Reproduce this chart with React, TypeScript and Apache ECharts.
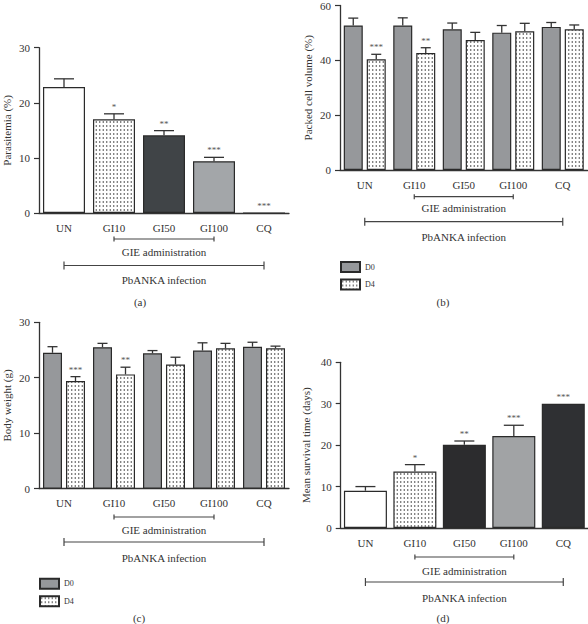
import React, { useEffect, useRef } from 'react';
import * as echarts from 'echarts';

// ---------- data ----------
const categories = ['UN', 'GI10', 'GI50', 'GI100', 'CQ'];

// (a) Parasitemia (%)
const parasitemia = [22.85, 17.0, 14.1, 9.4, 0];
const parasitemiaErr = [1.5, 1.0, 0.85, 0.7, 0];
const parasitemiaSig = ['', '*', '**', '***', '***'];

// (b) Packed cell volume (%)
const pcvD0 = [52.7, 52.7, 51.3, 50.1, 52.2];
const pcvD0Err = [2.7, 2.8, 2.3, 2.6, 1.6];
const pcvD4 = [40.4, 42.7, 47.4, 50.6, 51.3];
const pcvD4Err = [1.8, 1.9, 2.8, 2.9, 1.6];
const pcvD4Sig = ['***', '**', '', '', ''];

// (c) Body weight (g)
const bwD0 = [24.5, 25.5, 24.4, 24.9, 25.6];
const bwD0Err = [1.1, 0.7, 0.5, 1.4, 0.8];
const bwD4 = [19.4, 20.6, 22.4, 25.3, 25.3];
const bwD4Err = [0.8, 1.3, 1.3, 0.9, 0.4];
const bwD4Sig = ['***', '**', '', '', ''];

// (d) Mean survival time (days)
const mst = [9.0, 13.65, 20.1, 22.2, 30.0];
const mstErr = [1.0, 1.65, 0.9, 2.6, 0];
const mstSig = ['', '*', '**', '***', '***'];

// brackets under the category axes
const bracketLabels = ['GIE administration', 'PbANKA infection'];
const bracketFrom = [1, 0];
const bracketTo = [3, 4];

const dayLabels = ['D0', 'D4'];
const panelLabels = ['(a)', '(b)', '(c)', '(d)'];

// ---------- style ----------
const FONT = '"Liberation Serif", "Times New Roman", serif';
const INK = '#333333';
const BORDER = '#2a2a2a';

const dotSvg =
  '<svg xmlns="http://www.w3.org/2000/svg" width="7" height="8">' +
  '<rect width="7" height="8" fill="#ffffff"/>' +
  '<circle cx="1.75" cy="2" r="0.75" fill="#2a2a2a"/>' +
  '<circle cx="5.25" cy="2" r="0.75" fill="#2a2a2a"/>' +
  '<circle cx="1.75" cy="6" r="0.75" fill="#2a2a2a"/>' +
  '<circle cx="5.25" cy="6" r="0.75" fill="#2a2a2a"/>' +
  '</svg>';
const DOTS: any = {
  image: 'data:image/svg+xml;charset=utf-8,' + encodeURIComponent(dotSvg),
  repeat: 'repeat',
  imageWidth: 7,
  imageHeight: 8,
};
const D0_FILL = '#96989b';

const fillsA = ['#ffffff', DOTS, '#404447', '#a3a6a9', '#ffffff'];
const fillsD = ['#ffffff', DOTS, '#2c2c2e', '#a1a3a5', '#2f3033'];

const grids = [
  { left: 39, top: 47.7, width: 250, height: 165.3 },
  { left: 340, top: 4.7, width: 247.5, height: 165.3 },
  { left: 39, top: 322.3, width: 250, height: 166.3 },
  { left: 340.7, top: 362.3, width: 247.3, height: 165.7 },
];

// offsets below the x axis: [GIE line, GIE text, PbANKA line, PbANKA text]
const bracketOffsets = [
  [26, 38.5, 52.5, 67],
  [26.7, 38, 51.7, 67.3],
  [28.4, 41.7, 53.4, 69],
  [29, 43.3, 54, 69.6],
];

const xAxisFor = (gridIndex: number) => ({
  type: 'category',
  gridIndex,
  data: categories,
  axisLine: { lineStyle: { color: INK, width: 1.3 } },
  axisTick: { alignWithLabel: true, length: 5, lineStyle: { color: INK, width: 1.2 } },
  axisLabel: { fontFamily: FONT, fontSize: 11, color: INK, margin: 9 },
});

const yAxisFor = (gridIndex: number, max: number, interval: number, name: string, nameGap: number) => ({
  type: 'value',
  gridIndex,
  min: 0,
  max,
  interval,
  name,
  nameLocation: 'middle',
  nameGap,
  nameTextStyle: { fontFamily: FONT, fontSize: 11, color: INK },
  axisLine: { show: true, lineStyle: { color: INK, width: 1.3 } },
  axisTick: { show: true, length: 5, lineStyle: { color: INK, width: 1.2 } },
  splitLine: { show: false },
  axisLabel: { fontFamily: FONT, fontSize: 11, color: INK, margin: 9 },
});

function errorSeries(
  axis: number,
  means: number[],
  errs: number[],
  sigs: string[] | null,
  offset: number,
  capHalf: number
) {
  return {
    type: 'custom',
    xAxisIndex: axis,
    yAxisIndex: axis,
    z: 5,
    silent: true,
    data: means.map((m, i) => [i, m, errs[i]]),
    renderItem: (params: any, api: any) => {
      const i = api.value(0);
      const m = api.value(1);
      const e = api.value(2);
      const base = api.coord([i, m]);
      const top = api.coord([i, m + e]);
      const x = base[0] + offset;
      const children: any[] = [];
      const ls = { stroke: INK, lineWidth: 1.3 };
      if (e > 0) {
        children.push({ type: 'line', shape: { x1: x, y1: base[1], x2: x, y2: top[1] }, style: ls });
        children.push({
          type: 'line',
          shape: { x1: x - capHalf, y1: top[1], x2: x + capHalf, y2: top[1] },
          style: ls,
        });
      }
      const sig = sigs ? sigs[params.dataIndex] : '';
      if (sig) {
        children.push({
          type: 'text',
          x,
          y: top[1] - 7,
          style: {
            text: sig,
            font: '9px ' + FONT,
            fontFamily: FONT,
            fontSize: 9,
            fill: '#555',
            align: 'center',
            verticalAlign: 'middle',
          },
        });
      }
      return { type: 'group', children };
    },
  };
}

function bracketSeries(axis: number) {
  const off = bracketOffsets[axis];
  return {
    type: 'custom',
    xAxisIndex: axis,
    yAxisIndex: axis,
    silent: true,
    clip: false,
    data: bracketFrom.map((f, k) => [f, bracketTo[k]]),
    renderItem: (params: any, api: any) => {
      const k = params.dataIndex;
      const y0 = api.coord([0, 0])[1];
      const x1 = api.coord([api.value(0), 0])[0];
      const x2 = api.coord([api.value(1), 0])[0];
      const ly = y0 + (k === 0 ? off[0] : off[2]);
      const ty = y0 + (k === 0 ? off[1] : off[3]);
      const t = k === 0 ? 2.5 : 4;
      const ls = { stroke: '#444', lineWidth: 1.2 };
      return {
        type: 'group',
        children: [
          { type: 'line', shape: { x1, y1: ly, x2, y2: ly }, style: ls },
          { type: 'line', shape: { x1, y1: ly - t, x2: x1, y2: ly + t }, style: ls },
          { type: 'line', shape: { x1: x2, y1: ly - t, x2, y2: ly + t }, style: ls },
          {
            type: 'text',
            x: (x1 + x2) / 2,
            y: ty,
            style: {
              text: bracketLabels[k],
              font: '11px ' + FONT,
              fontFamily: FONT,
              fontSize: 11,
              fill: INK,
              align: 'center',
              verticalAlign: 'middle',
            },
          },
        ],
      };
    },
  };
}

const barItemStyle = { borderColor: BORDER, borderWidth: 1.2 };

const legendFor = (left: number, top: number) => ({
  data: dayLabels,
  orient: 'vertical',
  left,
  top,
  padding: 0,
  itemWidth: 19,
  itemHeight: 10,
  itemGap: 5.5,
  icon: 'rect',
  selectedMode: false,
  textStyle: { fontFamily: FONT, fontSize: 8, color: INK },
});

function buildOption(): any {
  return {
    animation: false,
    backgroundColor: '#ffffff',
    grid: grids.map((g) => ({ ...g, containLabel: false })),
    xAxis: [0, 1, 2, 3].map(xAxisFor),
    yAxis: [
      yAxisFor(0, 30, 10, 'Parasitemia (%)', 27),
      yAxisFor(1, 60, 20, 'Packed cell volume (%)', 27),
      yAxisFor(2, 30, 10, 'Body weight (g)', 27),
      yAxisFor(3, 40, 10, 'Mean survival time (days)', 29),
    ],
    legend: [legendFor(340, 261), legendFor(39, 577.7)],
    graphic: [
      { left: 140, top: 302 },
      { left: 443, top: 302 },
      { left: 139, top: 618 },
      { left: 443, top: 618 },
    ].map((p, i) => ({
      type: 'text',
      x: p.left,
      y: p.top,
      style: {
        text: panelLabels[i],
        font: '11px ' + FONT,
        fontFamily: FONT,
        fontSize: 11,
        fill: INK,
        align: 'center',
        verticalAlign: 'middle',
      },
    })),
    series: [
      // (a)
      {
        type: 'bar',
        name: 'Parasitemia',
        xAxisIndex: 0,
        yAxisIndex: 0,
        barWidth: 42,
        itemStyle: barItemStyle,
        data: parasitemia.map((v, i) => ({ value: v, itemStyle: { color: fillsA[i] } })),
      },
      errorSeries(0, parasitemia, parasitemiaErr, parasitemiaSig, 0, 10),
      bracketSeries(0),
      // (b)
      {
        type: 'bar',
        name: dayLabels[0],
        xAxisIndex: 1,
        yAxisIndex: 1,
        barWidth: 19,
        barGap: '21%',
        itemStyle: { ...barItemStyle, color: D0_FILL },
        data: pcvD0,
      },
      {
        type: 'bar',
        name: dayLabels[1],
        xAxisIndex: 1,
        yAxisIndex: 1,
        barWidth: 19,
        barGap: '21%',
        itemStyle: { ...barItemStyle, color: DOTS },
        data: pcvD4,
      },
      errorSeries(1, pcvD0, pcvD0Err, null, -11.5, 5),
      errorSeries(1, pcvD4, pcvD4Err, pcvD4Sig, 11.5, 5),
      bracketSeries(1),
      // (c)
      {
        type: 'bar',
        name: dayLabels[0],
        xAxisIndex: 2,
        yAxisIndex: 2,
        barWidth: 19,
        barGap: '21%',
        itemStyle: { ...barItemStyle, color: D0_FILL },
        data: bwD0,
      },
      {
        type: 'bar',
        name: dayLabels[1],
        xAxisIndex: 2,
        yAxisIndex: 2,
        barWidth: 19,
        barGap: '21%',
        itemStyle: { ...barItemStyle, color: DOTS },
        data: bwD4,
      },
      errorSeries(2, bwD0, bwD0Err, null, -11.5, 5),
      errorSeries(2, bwD4, bwD4Err, bwD4Sig, 11.5, 5),
      bracketSeries(2),
      // (d)
      {
        type: 'bar',
        name: 'MST',
        xAxisIndex: 3,
        yAxisIndex: 3,
        barWidth: 43,
        itemStyle: barItemStyle,
        data: mst.map((v, i) => ({ value: v, itemStyle: { color: fillsD[i] } })),
      },
      errorSeries(3, mst, mstErr, mstSig, 0, 10),
      bracketSeries(3),
    ],
  };
}

export default function App() {
  const ref = useRef<HTMLDivElement>(null);
  useEffect(() => {
    if (!ref.current) return;
    const chart = echarts.init(ref.current, null, { renderer: 'svg' });
    chart.setOption(buildOption());
    return () => {
      chart.dispose();
    };
  }, []);
  return (
    <div
      ref={ref}
      style={{ position: 'absolute', left: 0, top: 0, width: 588, height: 624, background: '#ffffff' }}
    />
  );
}
